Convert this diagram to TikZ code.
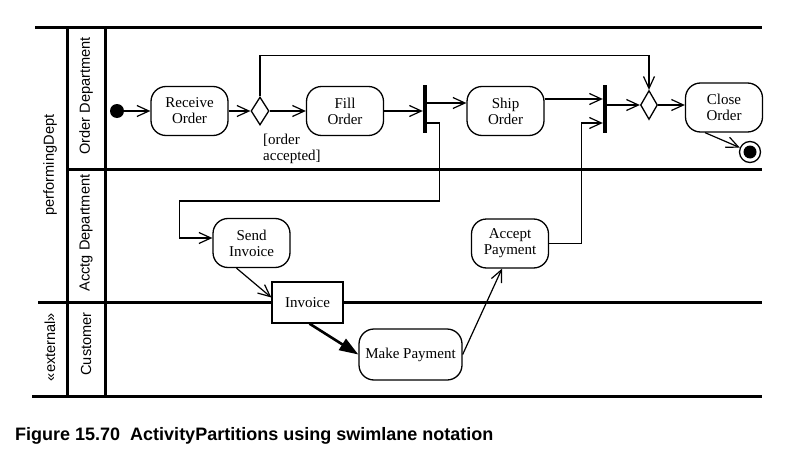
\documentclass[tikz,border=0pt]{standalone}
\usepackage{fontspec}
\setmainfont{Liberation Serif}
\setsansfont{Liberation Sans}
\usetikzlibrary{arrows.meta, shapes.geometric}

\begin{document}
\begin{tikzpicture}[x=1pt, y=-1pt, >={Straight Barb[length=12pt, width=11pt]}]
		\tikzstyle{lane} = [line width=3pt]
		\tikzstyle{lanelabel} = [rotate=90, inner sep=0pt, font=\sffamily\fontsize{14.6}{16}\selectfont]
		\tikzstyle{action} = [draw, fill=white, line width=1.3pt, rounded corners=15pt, align=center, inner sep=0pt, minimum width=77pt, minimum height=49pt, font=\fontsize{15}{16}\selectfont]
		\tikzstyle{object} = [draw, fill=white, line width=1.3pt, inner sep=0pt, minimum width=71pt, minimum height=41pt, font=\fontsize{15}{16}\selectfont]
		\tikzstyle{decision} = [draw, diamond, fill=white, line width=1.3pt, inner sep=0pt, minimum width=18pt, minimum height=28pt]
		\tikzstyle{bar} = [fill=black, inner sep=0pt, minimum width=4pt, minimum height=48pt]
		\tikzstyle{flow} = [line width=1.2pt]
		
		\useasboundingbox (0, 0) rectangle (787, 452);
		
		\draw[lane] (35, 28) -- (762, 28);
		\draw[lane] (67, 28) -- (67, 396);
		\draw[lane] (105, 28) -- (105, 396);
		\draw[lane] (67, 169) -- (762, 169);
		\draw[lane] (38, 302) -- (762, 302);
		\draw[lane] (32, 396) -- (762, 396);
		
		\node[lanelabel] 	at (50, 165) 	(dept) 		{performingDept};
		\node[lanelabel] 	at (86, 96) 	(order) 	{Order Department};
		\node[lanelabel] 	at (86, 233) 	(acctg) 	{Acctg Department};
		\node[lanelabel] 	at (86, 344) 	(customer) 	{Customer};
		\node[lanelabel] 	at (50, 347) 	(external) 	{«external»};
		
		\node[circle, fill=black, inner sep=0pt, minimum size=14pt] 	at (117, 111) 	(init) 	{};
		\node[action] 		at (189.5, 111) 	(receive) 	{Receive\\Order};
		\node[decision] 	at (260, 111) 		(split) 	{};
		\node[action] 		at (345, 111) 		(fill) 		{Fill\\Order};
		\node[bar] 			at (425, 109) 		(fork) 		{};
		\node[action] 		at (505.5, 111) 	(ship) 		{Ship\\Order};
		\node[bar] 			at (605, 109) 		(join) 		{};
		\node[decision, minimum width=17pt, minimum height=29pt] 	at (649, 105) 	(merge) 	{};
		\node[action] 		at (724, 107.5) 	(close) 	{Close\\Order};
		\node[circle, draw, line width=1.3pt, inner sep=0pt, minimum size=21pt] 	at (750, 152) 	(final) 	{};
		\fill (final.center) circle (6.5pt);
		\node[anchor=north west, align=left, inner sep=0pt, font=\fontsize{15}{16}\selectfont] 	at (263, 134) 	(guard) 	{[order\\accepted]};
		
		\node[action] 		at (251.5, 243) 	(send) 		{Send\\Invoice};
		\node[action] 		at (510, 243.5) 	(accept) 	{Accept\\Payment};
		\node[object] 		at (307.5, 302.5) 	(invoice) 	{Invoice};
		\node[action, minimum width=103pt, minimum height=51pt] 	at (410.5, 354.5) 	(make) 	{Make Payment};
		
		\node[anchor=base west, inner sep=0pt, font=\sffamily\bfseries\fontsize{18}{20}\selectfont] 	at (15, 440) 	(caption) 	{Figure 15.70\ \ ActivityPartitions using swimlane notation};
		
		\path[->, flow]
		(init)		edge	(receive)
		(receive)	edge	(split)
		(split)		edge	(fill);
		\draw[->, flow] (split.north) -- ++(0, -41) -| (merge.north);
		\draw[->, flow] (fill.east) -- (fill.east -| fork.west);
		\draw[->, flow] ([yshift=6pt]fork.east) -- ([yshift=6pt]fork.east -| ship.west);
		\draw[->, flow] ([yshift=-14pt]fork.east) -- ++(12, 0) -- ++(0, 78) -- ++(-260, 0) |- ([yshift=5pt]send.west);
		\draw[->, flow] ([xshift=-15pt]send.south) -- ([yshift=5pt]invoice.west);
		\draw[-{Triangle[length=19pt, width=13pt]}, line width=2.6pt] ([xshift=2pt]invoice.south) -- (make.west);
		\draw[->, flow] (make.east) -- ([xshift=-8pt]accept.south);
		\draw[->, flow] (accept.east) -- ++(32, 0) |- ([yshift=-14pt]join.west);
		\draw[->, flow] ([yshift=12pt]ship.east) -- ([yshift=12pt]ship.east -| join.west);
		\draw[->, flow] (merge.west -| join.east) -- (merge.west);
		\draw[->, flow] (merge.east) -- (merge.east -| close.west);
		\path[->, flow]
		([xshift=-19pt]close.south)	edge	(final);
\end{tikzpicture}
\end{document}
